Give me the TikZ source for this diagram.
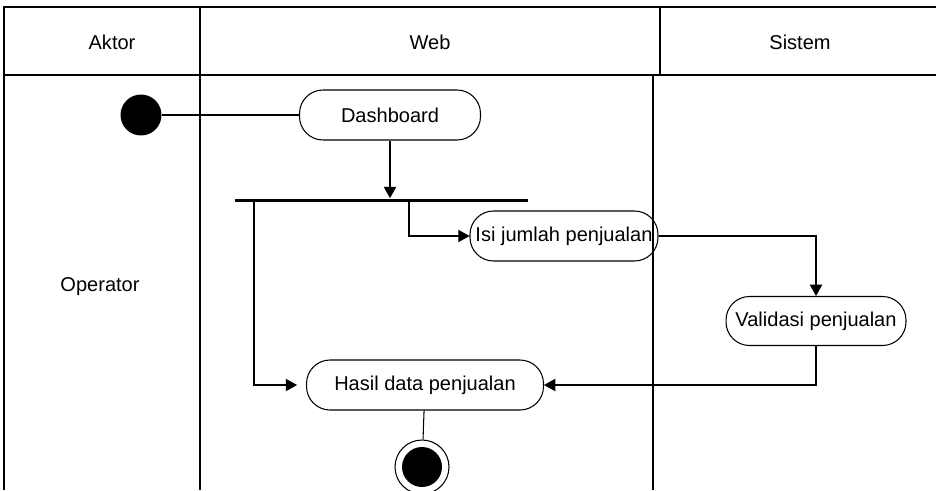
\documentclass[tikz,border=0pt]{standalone}
\usepackage{fontspec}
\setmainfont{Liberation Sans}
\usetikzlibrary{arrows.meta}

\begin{document}
\begin{tikzpicture}[x=0.02cm,y=-0.02cm,
    lane/.style={line width=0.6pt},
    link/.style={line width=0.6pt},
    flow/.style={line width=0.6pt,-{Triangle[length=6.4pt,width=7pt]}},
    act/.style={rectangle,draw,line width=0.6pt,rounded corners=0.47cm,inner sep=0pt,minimum height=1cm,font=\actfont},
    lanetext/.style={font=\actfont}]
    \pgfmathsetmacro{\laneleft}{4}
    \pgfmathsetmacro{\laneright}{936}
    \pgfmathsetmacro{\lanetop}{7}
    \pgfmathsetmacro{\headbottom}{75}
    \pgfmathsetmacro{\lanebottom}{490}
    \pgfmathsetmacro{\webx}{200}
    \pgfmathsetmacro{\sistemhead}{660}
    \pgfmathsetmacro{\sistemx}{653}
    \providecommand{\actfont}{\fontsize{11.4}{13}\selectfont}
    \useasboundingbox (0,0) rectangle (936,490);
    % swimlanes
    \draw[lane] (\laneleft,\lanebottom) -- (\laneleft,\lanetop) -- (\laneright,\lanetop);
    \draw[lane] (\laneleft,\headbottom) -- (\laneright,\headbottom);
    \draw[lane] (\webx,\lanetop) -- (\webx,\lanebottom);
    \draw[lane] (\sistemhead,\lanetop) -- (\sistemhead,\headbottom);
    \draw[lane] (\sistemx,\headbottom) -- (\sistemx,\lanebottom);
    \node[lanetext] (aktor) at (112,42) {Aktor};
    \node[lanetext] (web) at (430,42) {Web};
    \node[lanetext] (sistem) at (800,42) {Sistem};
    \node[lanetext] (operator) at (100,287) {Operator};
    % activities
    \node[circle,fill=black,inner sep=0pt,minimum size=0.82cm] (start) at (141,115) {};
    \node[act,minimum width=3.62cm] (dash) at (390,115) {Dashboard};
    \node[rectangle,fill=black,inner sep=0pt,minimum width=5.86cm,minimum height=0.06cm] (fork) at (381.5,200) {};
    \coordinate (forkL) at (254,200);
    \coordinate (forkR) at (409,200);
    \node[act,minimum width=3.76cm] (isi) at (564,236) {Isi jumlah penjualan};
    \node[act,minimum width=3.6cm,minimum height=0.98cm] (val) at (816,321) {Validasi penjualan};
    \node[act,minimum width=4.74cm] (hasil) at (425,385) {Hasil data penjualan};
    \node[circle,draw,line width=0.6pt,inner sep=0pt,minimum size=1.08cm] (fin) at (422,467) {};
    \node[circle,fill=black,inner sep=0pt,minimum size=0.8cm] (finin) at (fin) {};
    % connectors
    \draw[link] (start) -- (dash);
    \draw[flow] (dash) -- (dash |- fork.north);
    \draw[flow] (forkR) |- (isi.west);
    \draw[flow,shorten >=0.18cm] (forkL) |- (hasil.west);
    \draw[flow] (isi.east) -| (val.north);
    \draw[flow] (val.south) |- (hasil.east);
    \draw[link] (hasil) -- (fin);
\end{tikzpicture}
\end{document}
